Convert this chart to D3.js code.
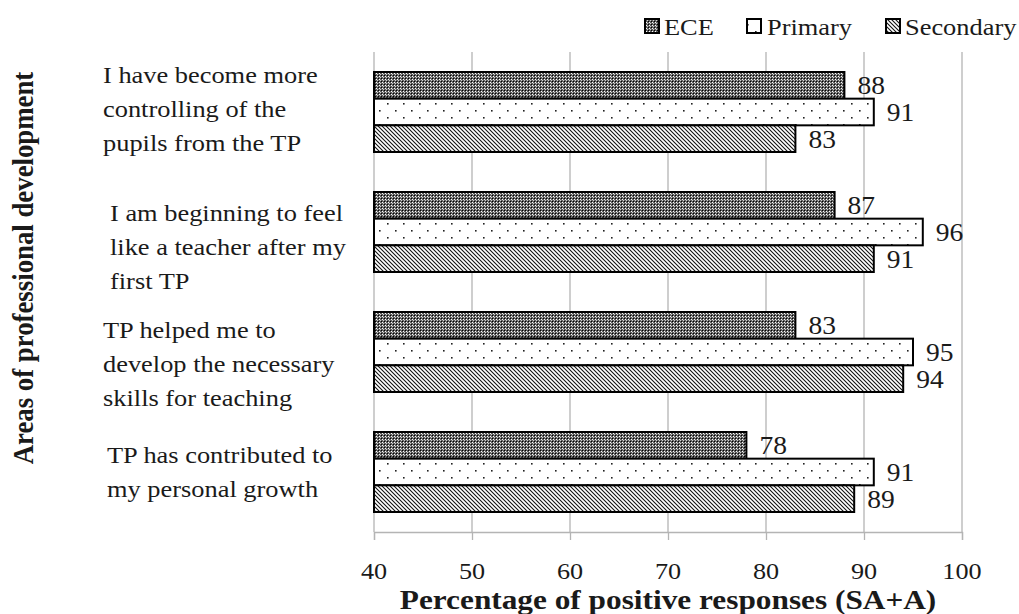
<!DOCTYPE html>
<html>
<head>
<meta charset="utf-8">
<script src="https://cdn.jsdelivr.net/npm/d3@7"></script>
<style>
  html, body { margin: 0; padding: 0; background: #fff; }
  svg { display: block; }
</style>
</head>
<body>
<svg id="chart" width="1019" height="614"></svg>
<script>
// Survey results: share of positive responses (SA+A) by programme
const categories = [
  "I have become more controlling of the pupils from the TP",
  "I am beginning to feel like a teacher after my first TP",
  "TP helped me to develop the necessary skills for teaching",
  "TP has contributed to my personal growth"
];
const categoryLines = [
  ["I have become more", "controlling of the", "pupils from the TP"],
  ["I am beginning to feel", "like a teacher after my", "first TP"],
  ["TP helped me to", "develop the necessary", "skills for teaching"],
  ["TP has contributed to", "my personal growth"]
];
const seriesNames = ["ECE", "Primary", "Secondary"];
const eceValues = [88, 87, 83, 78];
const primaryValues = [91, 96, 95, 91];
const secondaryValues = [83, 91, 94, 89];
const xTicks = [40, 50, 60, 70, 80, 90, 100];
const xTitle = "Percentage of positive responses (SA+A)";
const yTitle = "Areas of professional development";

const seriesValues = [eceValues, primaryValues, secondaryValues];
const rows = categories.map((c, i) => ({
  category: c,
  lines: categoryLines[i],
  values: seriesNames.map((s, k) => ({ series: s, value: seriesValues[k][i] }))
}));

// layout
const plot = { left: 374, right: 962, top: 52, bottom: 532 };
const SX = 1.1;               // glyphs are set slightly wide
const FONT = "'Liberation Serif', 'Times New Roman', Tinos, 'DejaVu Serif', serif";
const svg = d3.select("#chart");

const x = d3.scaleLinear().domain([40, 100]).range([plot.left, plot.right]);
const y0 = d3.scaleBand().domain(categories).range([plot.top, plot.bottom])
  .paddingInner(1 / 3).paddingOuter(1 / 6);
const y1 = d3.scaleBand().domain(seriesNames).range([0, y0.bandwidth()]);

// fill patterns
const defs = svg.append("defs");
const pEce = defs.append("pattern").attr("id", "pat-ece")
  .attr("patternUnits", "userSpaceOnUse").attr("width", 3).attr("height", 3);
pEce.append("rect").attr("width", 3).attr("height", 3).attr("fill", "#5e5e5e");
pEce.append("rect").attr("x", 0).attr("y", 0).attr("width", 1).attr("height", 1).attr("fill", "#000");
pEce.append("rect").attr("x", 1).attr("y", 1).attr("width", 1).attr("height", 1).attr("fill", "#fff");
pEce.append("rect").attr("x", 2).attr("y", 2).attr("width", 1).attr("height", 1).attr("fill", "#d0d0d0");

const pPri = defs.append("pattern").attr("id", "pat-primary")
  .attr("patternUnits", "userSpaceOnUse").attr("width", 16).attr("height", 14);
pPri.append("rect").attr("width", 16).attr("height", 14).attr("fill", "#fff");
pPri.append("rect").attr("x", 3).attr("y", 3).attr("width", 1.6).attr("height", 1.6).attr("fill", "#222");
pPri.append("rect").attr("x", 11).attr("y", 10).attr("width", 1.6).attr("height", 1.6).attr("fill", "#222");

const pSec = defs.append("pattern").attr("id", "pat-secondary")
  .attr("patternUnits", "userSpaceOnUse").attr("width", 4).attr("height", 4);
pSec.append("rect").attr("width", 4).attr("height", 4).attr("fill", "#fff");
pSec.append("path").attr("d", "M-1,-1 L5,5 M-1,3 L1,5 M3,-1 L5,1")
  .attr("stroke", "#111").attr("stroke-width", 1.1);

const fills = { ECE: "url(#pat-ece)", Primary: "url(#pat-primary)", Secondary: "url(#pat-secondary)" };

// helper: text set slightly wide
function wideText(sel, tx, ty, str, size, opts = {}) {
  const sx = opts.sx || SX;
  const t = sel.append("text")
    .attr("transform", `translate(${tx},${ty}) scale(${sx},1)` + (opts.rotate ? ` rotate(${opts.rotate})` : ""))
    .attr("font-family", FONT)
    .attr("font-size", size)
    .attr("font-weight", opts.bold ? "bold" : "normal")
    .attr("fill", "#1a1a1a")
    .attr("text-anchor", opts.anchor || "start")
    .text(str);
  return t;
}

// gridlines
const grid = svg.append("g");
grid.selectAll("line").data(xTicks).join("line")
  .attr("x1", d => x(d)).attr("x2", d => x(d))
  .attr("y1", plot.top).attr("y2", plot.bottom)
  .attr("stroke", "#b4b4b4").attr("stroke-width", 1.3);

// x axis
const xAxis = svg.append("g").attr("transform", `translate(0,${plot.bottom})`)
  .call(d3.axisBottom(x).tickValues(xTicks).tickSize(8).tickFormat(""));
xAxis.select(".domain").attr("stroke", "#b4b4b4").attr("stroke-width", 1.3);
xAxis.selectAll(".tick line").attr("stroke", "#b4b4b4").attr("stroke-width", 1.3);

const tickLabels = svg.append("g");
xTicks.forEach(v => wideText(tickLabels, x(v), 579, String(v), 23, { anchor: "middle", sx: 1.14 }));

// bars
const groups = svg.append("g").selectAll("g").data(rows).join("g")
  .attr("transform", d => `translate(0,${y0(d.category)})`);

groups.selectAll("rect").data(d => d.values).join("rect")
  .attr("x", x(40))
  .attr("y", d => y1(d.series))
  .attr("width", d => x(d.value) - x(40))
  .attr("height", y1.bandwidth())
  .attr("fill", d => fills[d.series])
  .attr("stroke", "#000")
  .attr("stroke-width", 2);

// value labels
groups.each(function (d) {
  const g = d3.select(this);
  d.values.forEach(v => {
    wideText(g, x(v.value) + 13, y1(v.series) + y1.bandwidth() / 2 + 9, String(v.value), 25);
  });
});

// category labels
const labelLayout = [
  { indent: 103, dy: -3 },
  { indent: 110, dy: 15 },
  { indent: 103, dy: 12 },
  { indent: 107, dy: 0 }
];
const lineH = 34;
const catG = svg.append("g");
rows.forEach((r, i) => {
  const cy = y0(r.category) + y0.bandwidth() / 2 + labelLayout[i].dy;
  const first = cy - (r.lines.length - 1) * lineH / 2 + 8;
  r.lines.forEach((ln, j) => wideText(catG, labelLayout[i].indent, first + j * lineH, ln, 24));
});

// axis titles
wideText(svg, (plot.left + plot.right) / 2, 609, xTitle, 27, { anchor: "middle", bold: true, sx: 1.16 });
wideText(svg, 33, 268, yTitle, 26.8, { anchor: "middle", bold: true, rotate: -90 });

// legend
const legend = svg.append("g");
const legendItems = [
  { name: "ECE", bx: 645, tx: 664 },
  { name: "Primary", bx: 747, tx: 767 },
  { name: "Secondary", bx: 886, tx: 905 }
];
legendItems.forEach(it => {
  legend.append("rect").attr("x", it.bx).attr("y", 19).attr("width", 14).attr("height", 14)
    .attr("fill", fills[it.name]).attr("stroke", "#000").attr("stroke-width", 2);
  wideText(legend, it.tx, 35, it.name, 24);
});
</script>
</body>
</html>
